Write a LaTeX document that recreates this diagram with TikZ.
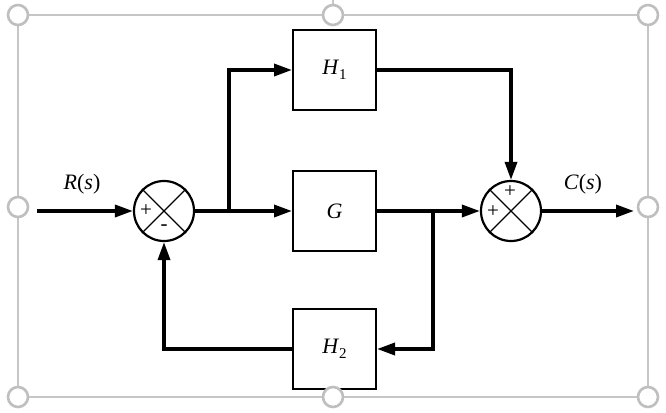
\documentclass[tikz,border=0pt]{standalone}
\usepackage{fontspec}
\setmainfont{Liberation Serif}
\usetikzlibrary{arrows.meta}
\begin{document}
\begin{tikzpicture}[x=1pt,y=-1pt,
  blk/.style={draw, line width=2pt, minimum width=83pt, minimum height=80pt, inner sep=0pt, font=\fontsize{22}{22}\selectfont},
  sumj/.style={draw, circle, line width=2.2pt, minimum size=60pt, inner sep=0pt},
  sig/.style={line width=3.4pt, -{Triangle[length=18pt,width=12pt]}},
  wire/.style={line width=3.4pt},
  xline/.style={line width=1.1pt},
  handle/.style={circle, draw=gray!50, line width=2.6pt, fill=white, minimum size=20pt, inner sep=0pt},
  lbl/.style={font=\fontsize{22}{22}\selectfont},
  sgn/.style={font=\fontsize{21}{21}\selectfont, inner sep=0pt}
]
\useasboundingbox (0,0) rectangle (666,412);
\fill[white] (0,0) rectangle (666,412);
\draw[gray!45, line width=1.3pt] (18,15) rectangle (648,397);
\draw[gray!45, line width=1.3pt] (333,0) -- (333,8);

% blocks
\node[blk] (H1) at (334.5,70) {\textit{H}\raisebox{-5pt}{\fontsize{15}{15}\selectfont 1}};
\node[blk] (G)  at (334.5,211) {\textit{G}};
\node[blk] (H2) at (334.5,349) {\textit{H}\raisebox{-5pt}{\fontsize{15}{15}\selectfont 2}};

% summing junctions
\node[sumj] (s1) at (164,211) {};
\node[sumj] (s2) at (511,211) {};
\draw[xline] (s1.north west) -- (s1.south east);
\draw[xline] (s1.north east) -- (s1.south west);
\draw[xline] (s2.north west) -- (s2.south east);
\draw[xline] (s2.north east) -- (s2.south west);
\node[sgn] (p1) at (146,211) {+};
\node[sgn] (m1) at (164,228) {-};
\node[sgn] (p2) at (510,192) {+};
\node[sgn] (p3) at (493,212) {+};

% coordinates
\coordinate (in) at (37,211);
\coordinate (b1) at (229,211);
\coordinate (b2) at (433,211);
\coordinate (out) at (634,211);

% labels
\node[lbl] (R) at (82,184) {\textit{R}(\textit{s})};
\node[lbl] (C) at (583,184) {\textit{C}(\textit{s})};

% connectors
\draw[sig] (in) -- (s1.west);
\draw[wire] (s1.east) -- (b1);
\draw[sig] (b1) -- (G.west);
\draw[sig] (b1) |- (H1.west);
\draw[sig] (H1.east) -| (s2.north);
\draw[wire] (G.east) -- (b2);
\draw[sig] (b2) -- (s2.west);
\draw[sig] (b2) |- (H2.east);
\draw[sig] (H2.west) -| (s1.south);
\draw[sig] (s2.east) -- (out);

% selection handles
\foreach \n/\p in {h1/{(18,15)},h2/{(333,15)},h3/{(648,15)},h4/{(18,207)},h5/{(648,207)},h6/{(18,397)},h7/{(333,397)},h8/{(648,397)}}
  \node[handle] (\n) at \p {};
\end{tikzpicture}
\end{document}
